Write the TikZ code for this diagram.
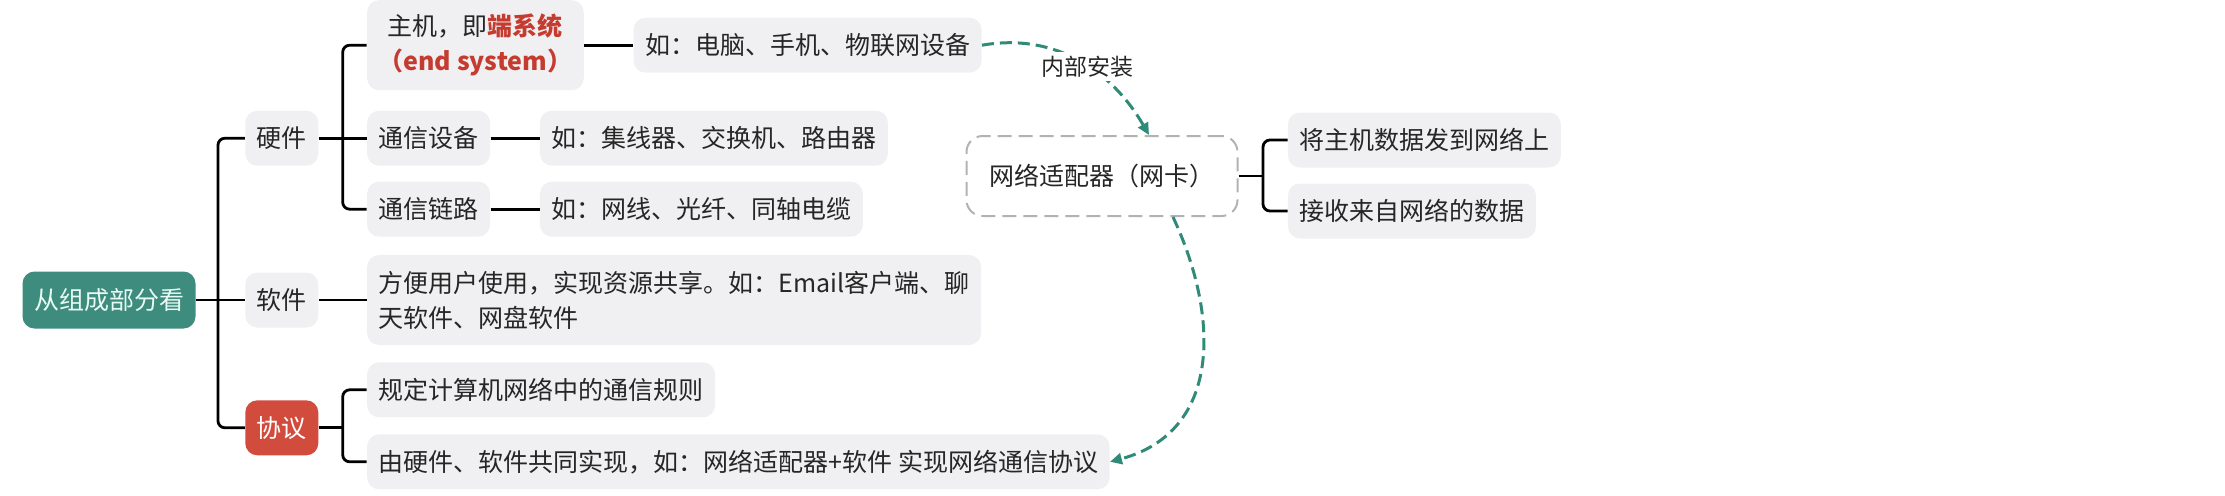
\documentclass[tikz,border=0pt]{standalone}
\usepackage{fontspec}
\setmainfont{Noto Sans CJK SC}
\usepackage{xcolor}
\usetikzlibrary{arrows.meta, positioning, calc}
\definecolor{rootteal}{HTML}{3E8C7E}
\definecolor{roottext}{HTML}{E8FAF4}
\definecolor{protored}{HTML}{D24C3E}
\definecolor{tagfill}{HTML}{F0F0F2}
\definecolor{hintteal}{HTML}{2F8A78}
\definecolor{keyred}{HTML}{C63B2F}
\definecolor{inkgray}{HTML}{262626}
\newcommand{\keyterm}[1]{\textcolor{keyred}{\bfseries #1}}
\tikzset{
    mapdiagram/.style={>=Stealth, font=\fontsize{12.5pt}{17.5pt}\selectfont, text=inkgray},
    tag/.style={fill=tagfill, rounded corners=6pt, minimum height=27.5pt, inner xsep=5.75pt, inner ysep=3pt},
    tall/.style={tag, minimum height=45pt, align=center},
    topic/.style={tag, fill=rootteal, text=roottext, minimum width=85pt, minimum height=28.5pt},
    hot/.style={tag, fill=protored, text=white},
    nic/.style={draw=black!30, dash pattern=on 7pt off 3.5pt, line width=1pt, rounded corners=8pt, minimum width=135.5pt, minimum height=40pt},
    conn/.style={line width=1.4pt, black, rounded corners=3.5pt},
    hint/.style={hintteal, line width=1.5pt, dash pattern=on 6pt off 3pt, -{Triangle[length=6pt, width=5.5pt]}},
}
\begin{document}
\begin{tikzpicture}[mapdiagram, x=0.5pt, y=-0.5pt]
    \useasboundingbox (0,0) rectangle (2225,495);

    % left tree
    \node[topic]                        (root)  at (109,300) {从组成部分看};
    \node[tag, right=24.5pt of root]    (soft)  {软件};
    \node[tag, above=53pt of soft]      (hw)    {硬件};
    \node[hot, below=36pt of soft]      (proto) {协议};

    \node[tag, right=24pt of hw]                                  (dev)    {通信设备};
    \node[tall, right=24pt of hw, yshift=46.5pt, minimum width=107pt] (host) {主机，即\keyterm{端系统}\\\keyterm{（end system）}};
    \node[tag, right=24pt of hw, yshift=-35.5pt]                  (chan)   {通信链路};
    \node[tag, right=24.5pt of host]                              (hostex) {如：电脑、手机、物联网设备};
    \node[tag, right=24.5pt of dev]                               (devex)  {如：集线器、交换机、路由器};
    \node[tag, right=24.5pt of chan]                              (chanex) {如：网线、光纤、同轴电缆};
    \node[tall, align=left, right=24pt of soft]                   (softex) {方便用户使用，实现资源共享。如：Email客户端、聊\\天软件、网盘软件};
    \node[tag, right=24pt of proto, yshift=19pt]                  (rule)   {规定计算机网络中的通信规则};
    \node[tag, right=24pt of proto, yshift=-17pt]                 (impl)   {由硬件、软件共同实现，如：网络适配器+软件 实现网络通信协议};

    % right tree
    \node[nic]                                      (nic)  at (1102,176) {网络适配器（网卡）};
    \node[tag, right=24.5pt of nic, yshift=18pt]    (send) {将主机数据发到网络上};
    \node[tag, right=24.5pt of nic, yshift=-17.5pt] (recv) {接收来自网络的数据};

    % brackets
    \coordinate (spine)      at ($(root.east)!0.45!(soft.west)$);
    \coordinate (hwspine)    at ($(hw.east)!0.5!(dev.west)$);
    \coordinate (protospine) at ($(proto.east)!0.5!(proto.east -| rule.west)$);
    \coordinate (nicspine)   at ($(nic.east)!0.5!(nic.east -| send.west)$);

    \draw[conn] (root) -- (soft);
    \draw[conn] (hw) -| (spine) |- (proto);

    \draw[conn] (hw) -- (dev);
    \draw[conn] (host) -| (hwspine) |- (chan);
    \draw[conn] (host) -- (hostex);
    \draw[conn] (dev) -- (devex);
    \draw[conn] (chan) -- (chanex);
    \draw[conn] (soft) -- (softex);

    \draw[conn] (proto) -- (protospine);
    \draw[conn] (rule) -| (protospine) |- (impl);

    \draw[conn] (nic) -- (nicspine);
    \draw[conn] (send) -| (nicspine) |- (recv);

    % dashed hints
    \draw[hint] (hostex.east) to[out=10, in=120]
        node[pos=0.55, fill=white, inner sep=2pt, text=inkgray, font=\fontsize{11.5pt}{14pt}\selectfont] (install) {内部安装}
        ([xshift=23.5pt]nic.north);
    \draw[hint] ([xshift=35.5pt]nic.south) to[out=-65, in=15, looseness=1.15] (impl.east);
\end{tikzpicture}
\end{document}
